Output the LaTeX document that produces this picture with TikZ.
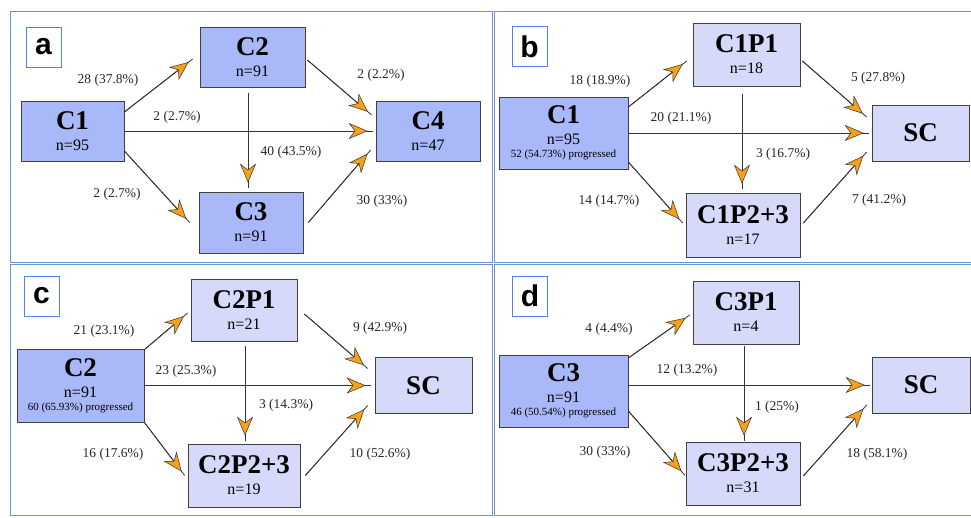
\documentclass[tikz,border=0pt]{standalone}
\usepackage{fontspec}
\setmainfont{Liberation Serif}
\newfontfamily\tagfont{Liberation Sans}
\usetikzlibrary{arrows.meta,positioning}

\definecolor{cohortblue}{HTML}{A8B8F8}
\definecolor{stateblue}{HTML}{D7D9FA}
\definecolor{frameblue}{HTML}{6A93D2}
\definecolor{tagblue}{HTML}{4F82EE}
\definecolor{tiporange}{HTML}{F7A11A}

\newcommand{\boxname}[1]{{\fontsize{27}{27}\selectfont\bfseries #1}}
\newcommand{\prog}[1]{{\fontsize{11}{13}\selectfont #1 progressed}}

\begin{document}
\begin{tikzpicture}[x=1pt,y=-1pt,
    box/.style={draw=black!75, line width=0.7pt, inner sep=0pt, align=center, font=\fontsize{16}{21}\selectfont},
    cohort/.style={box, fill=cohortblue},
    substate/.style={box, fill=stateblue},
    tag/.style={draw=tagblue, line width=0.8pt, fill=white, minimum width=35pt, minimum height=40pt, inner sep=0pt, font=\fontsize{30}{30}\selectfont\tagfont\bfseries},
    pct/.style={inner sep=0pt, text=black!85, font=\fontsize{13.5}{15}\selectfont},
    link/.style={draw=black!80, line width=0.8pt, postaction={draw, shorten >=5pt, -{Stealth[length=19pt,width=16pt,inset=6pt,line width=0.5pt,fill=tiporange]}}},
    panel/.style={draw=frameblue, line width=1pt}]
    \useasboundingbox (0,0) rectangle (971,518);

    % Panel frames
    \draw[panel] (10,12) rectangle (492,263);
    \draw[panel] (494,12) rectangle (975,263);
    \draw[panel] (10,265) rectangle (492,515);
    \draw[panel] (494,265) rectangle (975,515);

    % Panel a
    \node[tag] (taga) at (43.5,47) {a};
    \node[cohort, minimum width=103pt, minimum height=60pt] (c1a) at (72.5,131) {\boxname{C1}\\n=95};
    \node[cohort, minimum width=105pt, minimum height=60pt] (c2a) at (252.5,57) {\boxname{C2}\\n=91};
    \node[cohort, minimum width=104pt, minimum height=61pt] (c3a) at (251,222.5) {\boxname{C3}\\n=91};
    \node[cohort, minimum width=104pt, minimum height=60pt] (c4a) at (428,131) {\boxname{C4}\\n=47};

    \draw[link] ([yshift=19pt]c1a.east) -- ([xshift=-7pt,yshift=-2pt]c2a.west);
    \draw[link] (c1a.east) -- ([xshift=-3pt]c4a.west);
    \draw[link] ([yshift=-20pt]c1a.east) -- ([xshift=-9pt]c3a.west);
    \draw[link] ([xshift=-4.5pt,yshift=-6pt]c2a.south) -- ([xshift=-3pt,yshift=4pt]c3a.north);
    \draw[link] ([xshift=2pt,yshift=-3pt]c2a.east) -- ([xshift=-4pt,yshift=16pt]c4a.west);
    \draw[link] ([xshift=5pt]c3a.east) -- ([xshift=-5pt,yshift=-19pt]c4a.west);

    \node[pct] (pa1) at (108,80) {28 (37.8\%)};
    \node[pct] (pa2) at (177,117) {2 (2.7\%)};
    \node[pct] (pa3) at (117,194) {2 (2.7\%)};
    \node[pct] (pa4) at (291,152) {40 (43.5\%)};
    \node[pct] (pa5) at (381,75) {2 (2.2\%)};
    \node[pct] (pa6) at (382,201) {30 (33\%)};

    % Panel b
    \node[tag] (tagb) at (529.5,46.5) {b};
    \node[cohort, minimum width=129pt, minimum height=72pt] (c1b) at (563.5,133) {\boxname{C1}\\n=95\\[-8pt]\prog{52 (54.73\%)}};
    \node[substate, minimum width=107pt, minimum height=63pt] (c1p1) at (746.5,54.5) {\boxname{C1P1}\\n=18};
    \node[substate, minimum width=114pt, minimum height=64pt] (c1p23) at (743,225) {\boxname{C1P2+3}\\n=17};
    \node[substate, minimum width=97pt, minimum height=56pt] (scb) at (920.5,133) {\boxname{SC}};

    \draw[link] ([yshift=26pt]c1b.east) -- ([xshift=-6pt,yshift=-6.5pt]c1p1.west);
    \draw[link] (c1b.east) -- ([xshift=-3pt]scb.west);
    \draw[link] ([yshift=-29pt]c1b.east) -- ([xshift=-3pt,yshift=2pt]c1p23.west);
    \draw[link] ([xshift=-4.5pt,yshift=-8pt]c1p1.south) -- ([xshift=-1pt,yshift=4pt]c1p23.north);
    \draw[link] ([xshift=2pt,yshift=-6.5pt]c1p1.east) -- ([xshift=-5pt,yshift=16pt]scb.west);
    \draw[link] ([xshift=3pt,yshift=2pt]c1p23.east) -- ([xshift=-5pt,yshift=-19pt]scb.west);

    \node[pct] (pb1) at (600,81) {18 (18.9\%)};
    \node[pct] (pb2) at (681,118) {20 (21.1\%)};
    \node[pct] (pb3) at (609,201) {14 (14.7\%)};
    \node[pct] (pb4) at (783,154) {3 (16.7\%)};
    \node[pct] (pb5) at (878,78) {5 (27.8\%)};
    \node[pct] (pb6) at (879,200) {7 (41.2\%)};

    % Panel c
    \node[tag] (tagc) at (41.5,296) {c};
    \node[cohort, minimum width=127pt, minimum height=73pt] (c2c) at (80.5,385.5) {\boxname{C2}\\n=91\\[-8pt]\prog{60 (65.93\%)}};
    \node[substate, minimum width=106pt, minimum height=62pt] (c2p1) at (244,310) {\boxname{C2P1}\\n=21};
    \node[substate, minimum width=112pt, minimum height=63pt] (c2p23) at (244,475.5) {\boxname{C2P2+3}\\n=19};
    \node[substate, minimum width=97pt, minimum height=56pt] (scc) at (423.5,385.5) {\boxname{SC}};

    \draw[link] ([yshift=-1pt]c2c.north east) -- ([xshift=-3pt,yshift=-3pt]c2p1.west);
    \draw[link] (c2c.east) -- ([xshift=-4pt]scc.west);
    \draw[link] (c2c.south east) -- ([xshift=-3pt]c2p23.west);
    \draw[link] ([xshift=1pt,yshift=-5pt]c2p1.south) -- ([xshift=1pt,yshift=3pt]c2p23.north);
    \draw[link] ([xshift=7pt,yshift=-4pt]c2p1.east) -- ([xshift=-7pt,yshift=17pt]scc.west);
    \draw[link] ([xshift=5pt]c2p23.east) -- ([xshift=-7pt,yshift=-20pt]scc.west);

    \node[pct] (pc1) at (104,331) {21 (23.1\%)};
    \node[pct] (pc2) at (186,371) {23 (25.3\%)};
    \node[pct] (pc3) at (113,454) {16 (17.6\%)};
    \node[pct] (pc4) at (286,405) {3 (14.3\%)};
    \node[pct] (pc5) at (380,328) {9 (42.9\%)};
    \node[pct] (pc6) at (380,454) {10 (52.6\%)};

    % Panel d
    \node[tag] (tagd) at (530,296) {d};
    \node[cohort, minimum width=129pt, minimum height=72pt] (c3d) at (563.5,391) {\boxname{C3}\\n=91\\[-8pt]\prog{46 (50.54\%)}};
    \node[substate, minimum width=106pt, minimum height=63pt] (c3p1) at (746,312.5) {\boxname{C3P1}\\n=4};
    \node[substate, minimum width=114pt, minimum height=63pt] (c3p23) at (743,473.5) {\boxname{C3P2+3}\\n=31};
    \node[substate, minimum width=98pt, minimum height=56pt] (scd) at (921,385) {\boxname{SC}};

    \draw[link] ([yshift=33pt]c3d.east) -- ([xshift=-3pt,yshift=-2.5pt]c3p1.west);
    \draw[link] ([yshift=6pt]c3d.east) -- ([xshift=-2pt]scd.west);
    \draw[link] ([yshift=-20pt]c3d.east) -- ([xshift=-1pt,yshift=-1.5pt]c3p23.west);
    \draw[link] ([xshift=-2pt,yshift=-2pt]c3p1.south) -- ([xshift=1pt,yshift=1pt]c3p23.north);
    \draw[link] ([xshift=3pt,yshift=-2.5pt]c3p23.east) -- ([xshift=-5pt,yshift=-20pt]scd.west);

    \node[pct] (pd1) at (609,329) {4 (4.4\%)};
    \node[pct] (pd2) at (687,370) {12 (13.2\%)};
    \node[pct] (pd3) at (605,452) {30 (33\%)};
    \node[pct] (pd4) at (777,407) {1 (25\%)};
    \node[pct] (pd5) at (877,454) {18 (58.1\%)};
\end{tikzpicture}
\end{document}
